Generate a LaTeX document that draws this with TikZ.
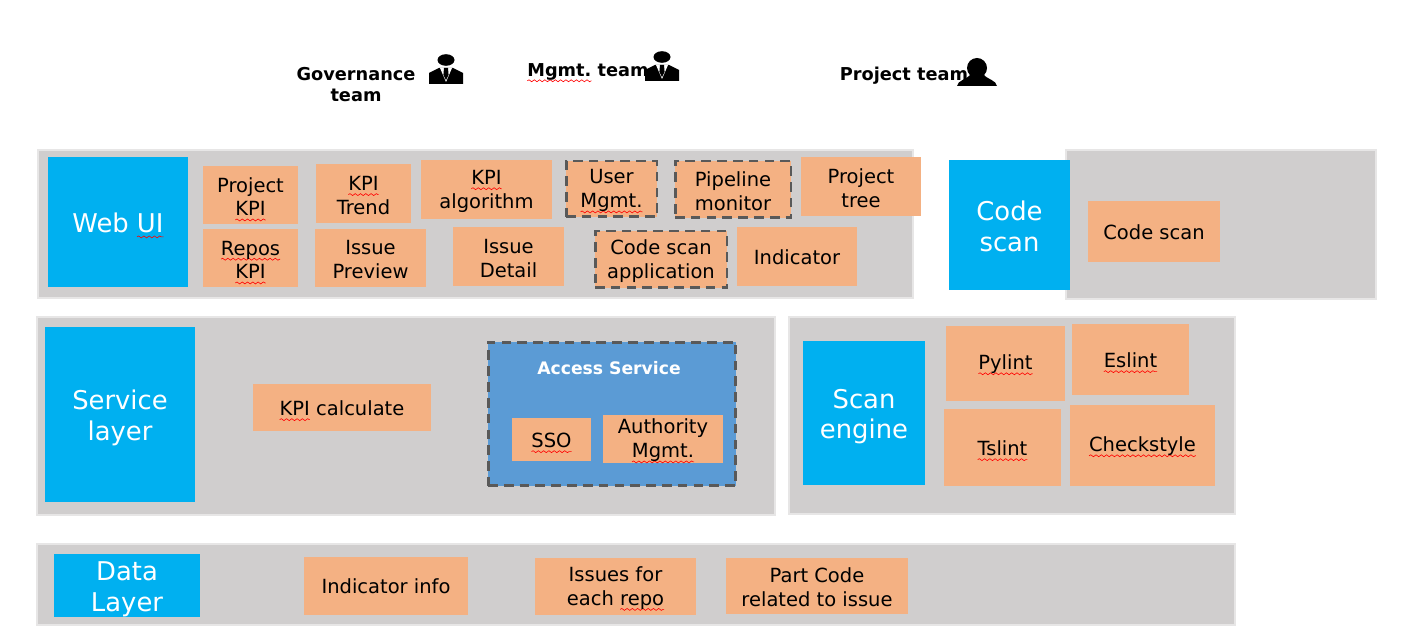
\documentclass[tikz,border=0pt]{standalone}
\usepackage{fontspec}
\usepackage{xcolor}
\setmainfont{DejaVu Sans}
\usetikzlibrary{decorations.pathmorphing, positioning}
\definecolor{panelgray}{HTML}{D0CECE}
\definecolor{panelline}{HTML}{E7E6E6}
\definecolor{layerblue}{HTML}{00B0F0}
\definecolor{boxorange}{HTML}{F4B183}
\definecolor{accessblue}{HTML}{5B9BD5}
\definecolor{dashgray}{HTML}{595959}
% red spell-check wave under a word
\newcommand{\wavy}[1]{\setbox0\hbox{#1}\leavevmode\rlap{\tikz[overlay,baseline=0pt]\draw[red, line width=0.35pt, decorate, decoration={snake, amplitude=0.55pt, segment length=3pt}] (0pt,-2.4pt) -- (\wd0,-2.4pt);}\box0\relax}
% taller first line, moves the text down a little
\newcommand{\itemlift}{\rule{0pt}{10.1pt}}
\newcommand{\layerlift}{\rule{0pt}{15pt}}
\newcommand{\layerliftsmall}{\rule{0pt}{12.4pt}}
\tikzset{
  panel/.style={draw=panelline, line width=1.4pt, fill=panelgray, inner sep=0pt},
  layer/.style={fill=layerblue, text=white, align=center, inner sep=0pt, font=\fontsize{14.7}{17.6}\selectfont},
  item/.style={fill=boxorange, align=center, inner sep=0pt, font=\fontsize{11.1}{13.5}\selectfont, execute at begin node={\rule{0pt}{9.2pt}}},
  itemdash/.style={item, draw=dashgray, dash pattern=on 5.5pt off 3.5pt, line width=1.7pt},
  team/.style={align=center, inner sep=0pt, font=\fontsize{10.1}{12}\selectfont\bfseries},
  suit/.pic={
    \fill (0,0) ellipse[x radius=8.5, y radius=5.8];
    \fill (-17,24) -- (-17,13) -- (-7,8) -- (7,8) -- (17,13) -- (17,24) -- cycle;
    \fill[white] (-6,8) -- (6,8) -- (0,22) -- cycle;
    \fill (-2,8) -- (2,8) -- (2.6,15) -- (0,20) -- (-2.6,15) -- cycle;
  },
  user/.pic={
    \fill (0,-4) ellipse[x radius=10, y radius=10];
    \fill (-20,14) .. controls (-19,8) and (-11,8) .. (-6,2) -- (6,2) .. controls (11,8) and (19,8) .. (20,14) -- cycle;
  }
}
\begin{document}
\begin{tikzpicture}[x=0.02cm, y=-0.02cm]
  \useasboundingbox (0,0) rectangle (1407,634);
  % Teams
  \node[team] (govteam) at (356,85) {Governance\\team};
  \pic at (446,60) {suit};
  \node[team] (mgmtteam) at (588,72) {\wavy{Mgmt.} team};
  \pic at (662,57) {suit};
  \node[team] (projteam) at (904,76) {Project team};
  \pic at (977,72) {user};

  % Panels
  \node[panel, minimum width=17.5cm, minimum height=2.96cm] (webpanel) at (475.5,224) {};
  \node[panel, minimum width=6.2cm, minimum height=2.98cm] (scanpanel) at (1221,224.5) {};
  \node[panel, minimum width=14.76cm, minimum height=3.96cm] (servpanel) at (406,416) {};
  \node[panel, minimum width=8.92cm, minimum height=3.94cm] (enginepanel) at (1012,415.5) {};
  \node[panel, minimum width=23.96cm, minimum height=1.62cm] (datapanel) at (636,584.5) {};

  % Layers
  \node[layer, minimum width=2.8cm, minimum height=2.6cm] (webui) at (118,222) {\layerliftsmall Web \wavy{UI}};
  \node[layer, minimum width=2.42cm, minimum height=2.6cm] (codescan) at (1009.5,225) {\layerliftsmall Code\\scan};
  \node[layer, minimum width=3cm, minimum height=3.5cm] (service) at (120,414.5) {\layerlift Service\\layer};
  \node[layer, minimum width=2.44cm, minimum height=2.88cm] (engine) at (864,413) {\layerlift Scan\\engine};
  \node[layer, minimum width=2.92cm, minimum height=1.26cm] (datalayer) at (127,585.5) {\layerlift Data\\Layer};

  % Web UI
  \node[item, minimum width=1.9cm, minimum height=1.16cm] (projkpi) at (250.5,195) {\itemlift Project\\\wavy{KPI}};
  \node[item, minimum width=1.9cm, minimum height=1.18cm] (kpitrend) at (363.5,193.5) {\itemlift\wavy{KPI}\\Trend};
  \node[item, minimum width=2.62cm, minimum height=1.18cm] (kpialgo) at (486.5,189.5) {\itemlift\wavy{KPI}\\algorithm};
  \node[itemdash, minimum width=1.82cm, minimum height=1.12cm] (usermgmt) at (611.5,189) {\itemlift User\\\wavy{Mgmt.}};
  \node[itemdash, minimum width=2.32cm, minimum height=1.14cm] (pipeline) at (733,189.5) {\itemlift Pipeline\\monitor};
  \node[item, minimum width=2.4cm, minimum height=1.18cm] (projtree) at (861,186.5) {\itemlift Project\\tree};
  \node[item, minimum width=1.9cm, minimum height=1.16cm] (reposkpi) at (250.5,258) {\itemlift\wavy{Repos}\\\wavy{KPI}};
  \node[item, minimum width=2.22cm, minimum height=1.16cm] (preview) at (370.5,258) {\itemlift Issue\\Preview};
  \node[item, minimum width=2.22cm, minimum height=1.18cm] (detail) at (508.5,256.5) {\itemlift Issue\\Detail};
  \node[itemdash, minimum width=2.64cm, minimum height=1.14cm] (scanapp) at (661,259.5) {\itemlift Code scan\\application};
  \node[item, minimum width=2.4cm, minimum height=1.18cm] (indicator) at (797,256.5) {Indicator};

  % Code scan
  \node[item, minimum width=2.64cm, minimum height=1.22cm] (scanbox) at (1154,231.5) {Code scan};

  % Service layer
  \node[item, minimum width=3.56cm, minimum height=0.94cm] (kpicalc) at (342,407.5) {\wavy{KPI} calculate};
  \node[fill=accessblue, draw=dashgray, dash pattern=on 5.5pt off 3.5pt, line width=1.7pt, minimum width=4.96cm, minimum height=2.88cm, inner sep=0pt] (access) at (612,414) {};
  \node[team, text=white, font=\fontsize{9.8}{12}\selectfont\bfseries] (accesstitle) at (609,368) {Access Service};
  \node[item, minimum width=1.58cm, minimum height=0.86cm] (sso) at (551.5,439.5) {\wavy{SSO}};
  \node[item, minimum width=2.4cm, minimum height=0.96cm] (authority) at (663,439) {\itemlift Authority\\\wavy{Mgmt.}};

  % Scan engine
  \node[item, minimum width=2.38cm, minimum height=1.5cm] (pylint) at (1005.5,363.5) {\wavy{Pylint}};
  \node[item, minimum width=2.34cm, minimum height=1.42cm] (eslint) at (1130.5,359.5) {\wavy{Eslint}};
  \node[item, minimum width=2.34cm, minimum height=1.54cm] (tslint) at (1002.5,447.5) {\wavy{Tslint}};
  \node[item, minimum width=2.9cm, minimum height=1.62cm] (checkstyle) at (1142.5,445.5) {\wavy{Checkstyle}};

  % Data layer
  \node[item, minimum width=3.28cm, minimum height=1.16cm] (indinfo) at (386,586) {Indicator info};
  \node[item, minimum width=3.22cm, minimum height=1.14cm] (issues) at (615.5,586.5) {\itemlift Issues for\\each \wavy{repo}};
  \node[item, minimum width=3.64cm, minimum height=1.12cm] (partcode) at (817,586) {\itemlift Part Code\\related to issue};
\end{tikzpicture}
\end{document}
